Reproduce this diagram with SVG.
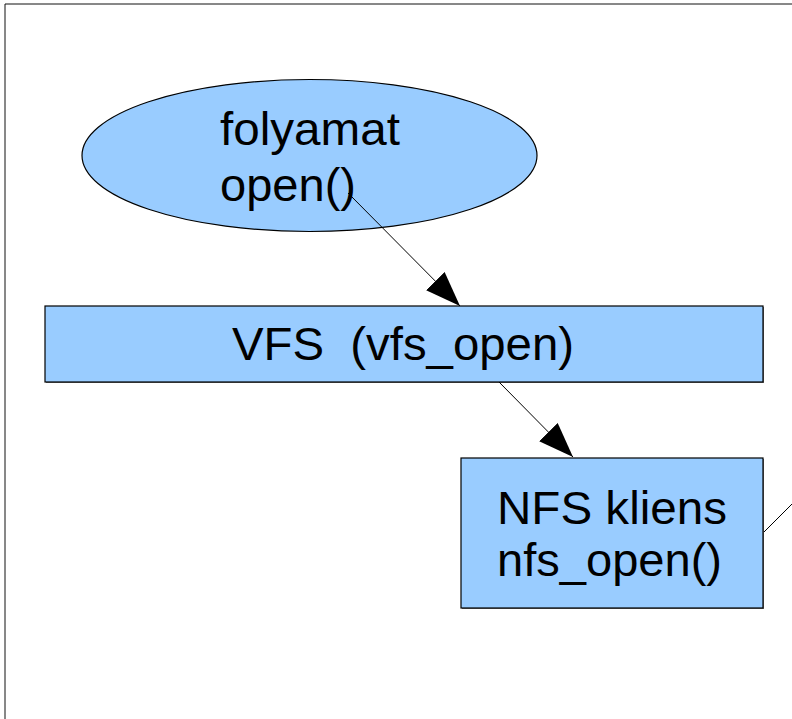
<svg xmlns="http://www.w3.org/2000/svg" width="792" height="719" viewBox="0 0 792 719">
<style>
.shape{fill:#99ccff;stroke:#000;stroke-width:1.2}
.shadow{fill:#777}
.lbl{font-family:"Liberation Sans",Arial,sans-serif;font-size:46px;fill:#000}
.conn{stroke:#000;stroke-width:1;fill:none}
</style>
<defs>
<marker id="ah" markerUnits="userSpaceOnUse" markerWidth="36" markerHeight="26" refX="35" refY="13" orient="auto">
<path d="M0,0 L35,13 L0,26 Z" fill="#000"/>
</marker>
</defs>
<rect x="0" y="0" width="792" height="719" fill="#fff"/>
<g id="frame">
<line x1="5" y1="4" x2="792" y2="4" stroke="#111" stroke-width="1"/>
<line x1="5" y1="4" x2="5" y2="719" stroke="#111" stroke-width="1"/>
</g>
<g id="process">
<ellipse class="shape" cx="309.5" cy="155.5" rx="227.5" ry="76"/>
<text class="lbl" x="220" y="145" textLength="180" lengthAdjust="spacingAndGlyphs">folyamat</text>
<text class="lbl" x="220" y="201" textLength="136" lengthAdjust="spacingAndGlyphs">open()</text>
</g>
<g id="vfs">
<rect class="shadow" x="46" y="307" width="718" height="76"/>
<rect class="shape" x="45" y="306" width="718" height="76"/>
<text class="lbl" x="232" y="360" textLength="342" lengthAdjust="spacingAndGlyphs" xml:space="preserve">VFS  (vfs_open)</text>
</g>
<g id="nfs">
<rect class="shadow" x="462" y="459" width="302" height="150"/>
<rect class="shape" x="461" y="458" width="302" height="150"/>
<text class="lbl" x="497" y="524" textLength="230" lengthAdjust="spacingAndGlyphs">NFS kliens</text>
<text class="lbl" x="497" y="576" textLength="225" lengthAdjust="spacingAndGlyphs">nfs_open()</text>
</g>
<g id="connectors">
<line class="conn" x1="348" y1="193" x2="460" y2="306" marker-end="url(#ah)"/>
<line class="conn" x1="499" y1="382" x2="573" y2="457" marker-end="url(#ah)"/>
<line class="conn" x1="764" y1="532" x2="792" y2="504"/>
</g>
</svg>
